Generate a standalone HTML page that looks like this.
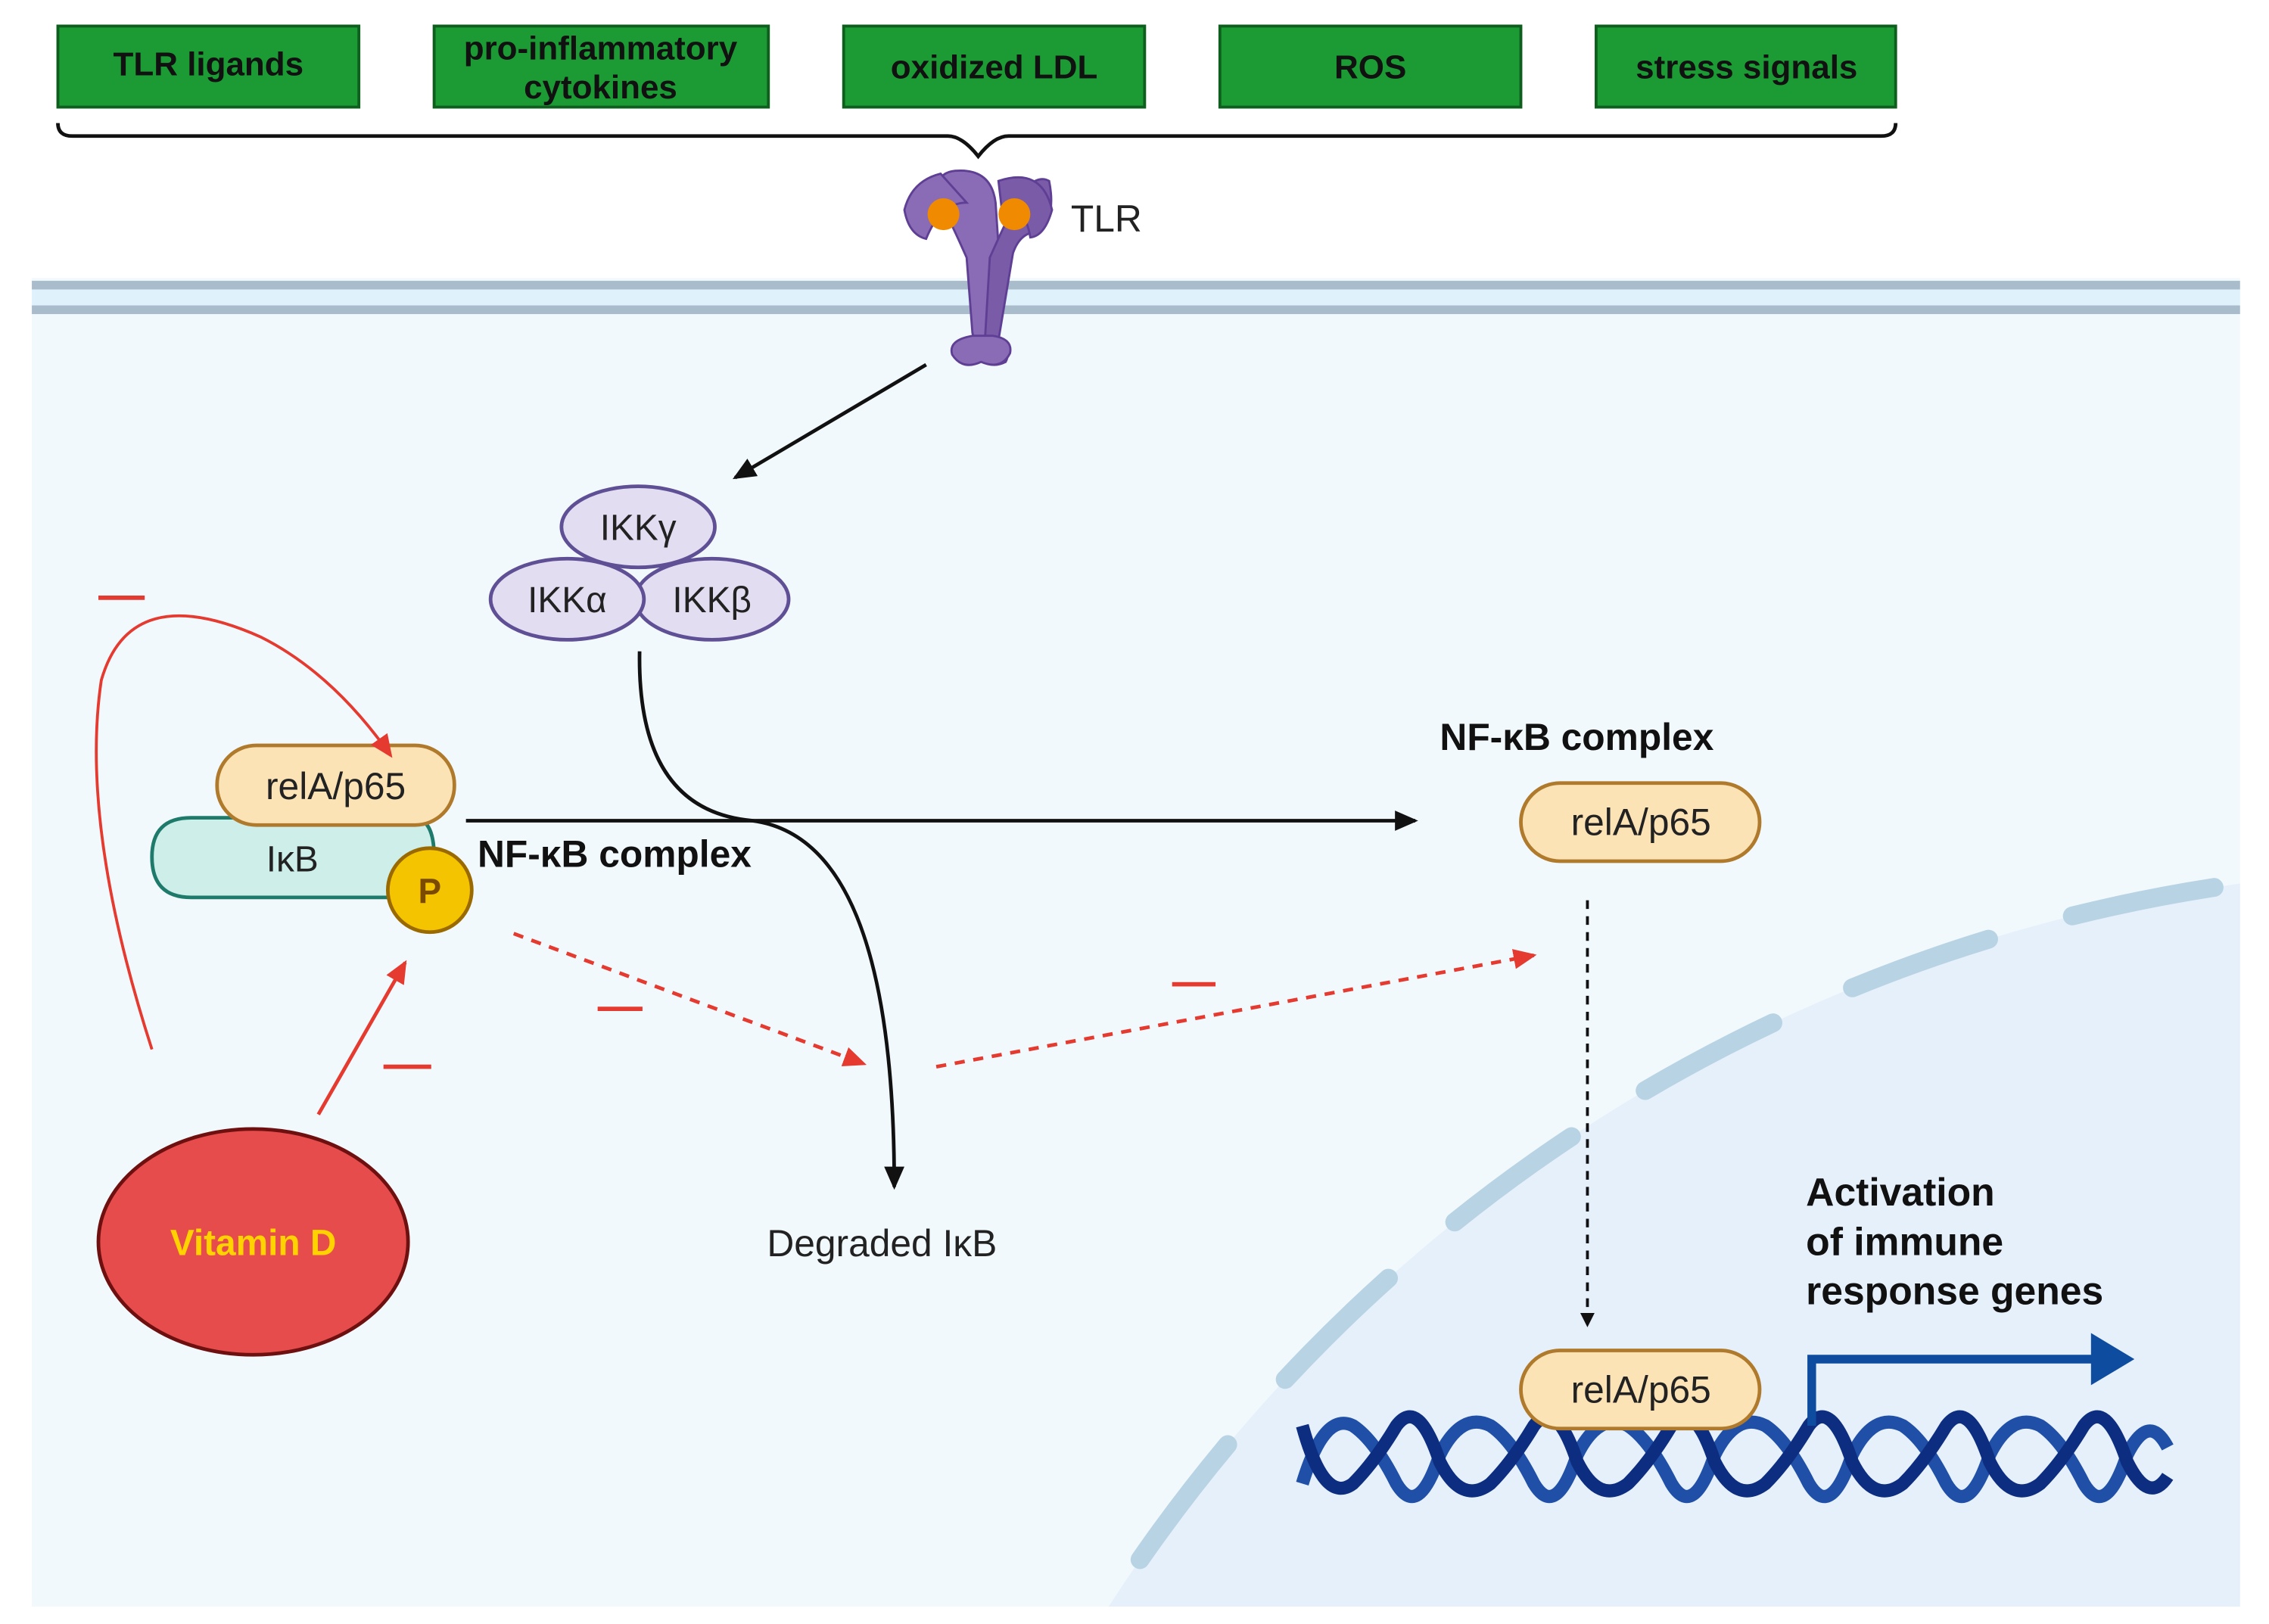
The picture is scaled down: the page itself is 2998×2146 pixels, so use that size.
<!DOCTYPE html>
<html><head><meta charset="utf-8"><style>
html,body{margin:0;padding:0;background:#fff;width:2998px;height:2146px;overflow:hidden}
svg{display:block;position:absolute;left:0;top:0}
text{font-family:"Liberation Sans",sans-serif}
</style></head><body>
<svg width="2998" height="2146" viewBox="0 0 1568 1122" preserveAspectRatio="none" xmlns="http://www.w3.org/2000/svg">
<defs>
<marker id="ab" markerWidth="10" markerHeight="10" refX="8" refY="5" orient="auto" markerUnits="userSpaceOnUse"><path d="M0,0 L10,5 L0,10 z" fill="#111"/></marker>
<marker id="ab2" markerWidth="16" markerHeight="14" refX="14" refY="7" orient="auto" markerUnits="userSpaceOnUse"><path d="M0,0 L16,7 L0,14 z" fill="#111"/></marker>
<marker id="ar" markerWidth="16" markerHeight="14" refX="14" refY="7" orient="auto" markerUnits="userSpaceOnUse"><path d="M0,0 L16,7 L0,14 z" fill="#e53a2f"/></marker>
<clipPath id="cell"><rect x="22" y="218" width="1526" height="892"/></clipPath>
</defs>
<rect x="22" y="192" width="1526" height="918" fill="#f1f9fd"/>
<rect x="22" y="194" width="1526" height="6" fill="#a9bccb"/>
<rect x="22" y="200" width="1526" height="11" fill="#dff1fb"/>
<rect x="22" y="211" width="1526" height="6" fill="#a9bccb"/>
<g clip-path="url(#cell)">
<circle cx="1700" cy="1710" r="1110" fill="#e6f0fa"/>
<circle cx="1700" cy="1710" r="1110" fill="none" stroke="#b8d3e4" stroke-width="13" stroke-linecap="round" stroke-dasharray="100 60"/>
</g>
<g fill="#1c9b35" stroke="#0e5e1e" stroke-width="2">
<rect x="40" y="18" width="208" height="56"/><rect x="300" y="18" width="231" height="56"/>
<rect x="583" y="18" width="208" height="56"/><rect x="843" y="18" width="208" height="56"/>
<rect x="1103" y="18" width="207" height="56"/></g>
<g font-weight="bold" font-size="23" text-anchor="middle" fill="#111">
<text x="144" y="52">TLR ligands</text>
<text x="415" y="41">pro-inflammatory</text><text x="415" y="68">cytokines</text>
<text x="687" y="54">oxidized LDL</text><text x="947" y="54">ROS</text>
<text x="1207" y="54">stress signals</text></g>
<path d="M40,85 Q40,94 50,94 L655,94 Q665,94 676,108 Q687,94 697,94 L1300,94 Q1310,94 1310,85" fill="none" stroke="#111" stroke-width="2.5"/>
<g fill="#8a6cb6" stroke="#5f3f94" stroke-width="1.5">
<path d="M668,178 Q660,160 655,150 Q640,120 660,118 Q685,116 688,140 L690,170 L688,235 Q700,240 695,250 Q685,255 677,248 L672,230 Z"/>
<path d="M684,178 Q692,160 697,150 Q712,118 725,125 Q730,150 718,160 Q705,160 700,175 L690,235 Q700,240 694,250 Q686,254 680,246 Z" fill="#7a5ba8"/>
<path d="M650,120 Q630,125 625,145 Q628,162 640,165 Q650,140 668,140 Z"/>
<path d="M690,125 Q720,115 727,145 Q722,163 712,164 Q708,140 692,142 Z" fill="#7a5ba8"/>
<path d="M672,232 Q655,235 658,245 Q665,256 678,250 Q692,256 698,244 Q700,234 686,232 Z"/>
</g>
<circle cx="652" cy="148" r="11" fill="#f08a00"/><circle cx="701" cy="148" r="11" fill="#f08a00"/>
<text x="740" y="160" font-size="26" fill="#222">TLR</text>
<line x1="640" y1="252" x2="508" y2="330" stroke="#111" stroke-width="2.5" marker-end="url(#ab2)"/>
<g fill="#e3ddf2" stroke="#5f4f95" stroke-width="2.5">
<ellipse cx="441" cy="364" rx="53" ry="28"/>
<ellipse cx="492" cy="414" rx="53" ry="28"/>
<ellipse cx="392" cy="414" rx="53" ry="28"/></g>
<g font-size="25" fill="#222" text-anchor="middle">
<text x="441" y="373">IKKγ</text><text x="392" y="423">IKKα</text><text x="492" y="423">IKKβ</text></g>
<path d="M442,450 Q440,560 520,567 Q618,580 618,820" fill="none" stroke="#111" stroke-width="2.5" marker-end="url(#ab2)"/>
<line x1="322" y1="567" x2="978" y2="567" stroke="#111" stroke-width="2.5" marker-end="url(#ab2)"/>
<path d="M132,565 L285,565 Q300,565 300,592 Q300,620 285,620 L132,620 Q105,620 105,592 Q105,565 132,565 Z" fill="#cdeee9" stroke="#1e7a6a" stroke-width="2.5"/>
<text x="202" y="602" font-size="25" fill="#222" text-anchor="middle">IκB</text>
<rect x="150" y="515" width="164" height="55" rx="27" fill="#fbe3b6" stroke="#b07a2c" stroke-width="2.5"/>
<text x="232" y="552" font-size="26" fill="#222" text-anchor="middle">relA/p65</text>
<circle cx="297" cy="615" r="29" fill="#f5c400" stroke="#9a6a00" stroke-width="2.5"/>
<text x="297" y="624" font-size="24" font-weight="bold" fill="#7a4a00" text-anchor="middle">P</text>
<text x="330" y="599" font-size="26" font-weight="bold" fill="#111">NF-κB complex</text>
<text x="995" y="518" font-size="26" font-weight="bold" fill="#111">NF-κB complex</text>
<rect x="1051" y="541" width="165" height="54" rx="27" fill="#fbe3b6" stroke="#b07a2c" stroke-width="2.5"/>
<text x="1134" y="577" font-size="26" fill="#222" text-anchor="middle">relA/p65</text>
<line x1="1097" y1="622" x2="1097" y2="915" stroke="#111" stroke-width="2" stroke-dasharray="6 5" marker-end="url(#ab)"/>
<g fill="none" stroke-width="9">
<path d="M900,1025 Q915,975 935,985 Q950,995 965,1025 Q980,1050 995,1005 Q1010,975 1030,985 Q1045,995 1060,1025 Q1075,1050 1090,1005 Q1105,975 1125,985 Q1140,995 1155,1025 Q1170,1050 1185,1005 Q1200,975 1220,985 Q1235,995 1250,1025 Q1265,1050 1280,1005 Q1295,975 1315,985 Q1330,995 1345,1025 Q1360,1050 1375,1005 Q1390,975 1410,985 Q1425,995 1440,1025 Q1455,1050 1470,1005 Q1485,975 1498,1000" stroke="#1f4fa6"/>
<path d="M900,985 Q915,1040 935,1025 Q950,1010 965,985 Q980,965 995,1010 Q1010,1040 1030,1025 Q1045,1010 1060,985 Q1075,965 1090,1010 Q1105,1040 1125,1025 Q1140,1010 1155,985 Q1170,965 1185,1010 Q1200,1040 1220,1025 Q1235,1010 1250,985 Q1265,965 1280,1010 Q1295,1040 1315,1025 Q1330,1010 1345,985 Q1360,965 1375,1010 Q1390,1040 1410,1025 Q1425,1010 1440,985 Q1455,965 1470,1010 Q1485,1040 1498,1020" stroke="#0d2d80"/>
</g>
<rect x="1051" y="933" width="165" height="54" rx="27" fill="#fbe3b6" stroke="#b07a2c" stroke-width="2.5"/>
<text x="1134" y="969" font-size="26" fill="#222" text-anchor="middle">relA/p65</text>
<path d="M1252,985 L1252,939 L1450,939" fill="none" stroke="#0e4ca0" stroke-width="6"/>
<path d="M1445,921 L1475,939 L1445,957 Z" fill="#0e4ca0"/>
<g font-size="27" font-weight="bold" fill="#111">
<text x="1248" y="833">Activation</text><text x="1248" y="867">of immune</text><text x="1248" y="901">response genes</text></g>
<text x="530" y="868" font-size="26" fill="#222">Degraded IκB</text>
<ellipse cx="175" cy="858" rx="107" ry="78" fill="#e64c4c" stroke="#6e1010" stroke-width="2.5"/>
<text x="175" y="867" font-size="25" font-weight="bold" fill="#ffd200" text-anchor="middle">Vitamin D</text>
<line x1="220" y1="770" x2="280" y2="665" stroke="#e53a2f" stroke-width="2.5" marker-end="url(#ar)"/>
<path d="M105,725 Q55,570 70,470 Q90,400 180,440 Q230,465 270,522" fill="none" stroke="#e53a2f" stroke-width="2" marker-end="url(#ar)"/>
<line x1="355" y1="645" x2="597" y2="735" stroke="#e53a2f" stroke-width="2.5" stroke-dasharray="7 6" marker-end="url(#ar)"/>
<line x1="647" y1="737" x2="1060" y2="660" stroke="#e53a2f" stroke-width="2.5" stroke-dasharray="7 6" marker-end="url(#ar)"/>
<g stroke="#e53a2f" stroke-width="3">
<line x1="68" y1="413" x2="100" y2="413"/><line x1="265" y1="737" x2="298" y2="737"/>
<line x1="413" y1="697" x2="444" y2="697"/><line x1="810" y1="680" x2="840" y2="680"/></g>
</svg>
</body></html>
